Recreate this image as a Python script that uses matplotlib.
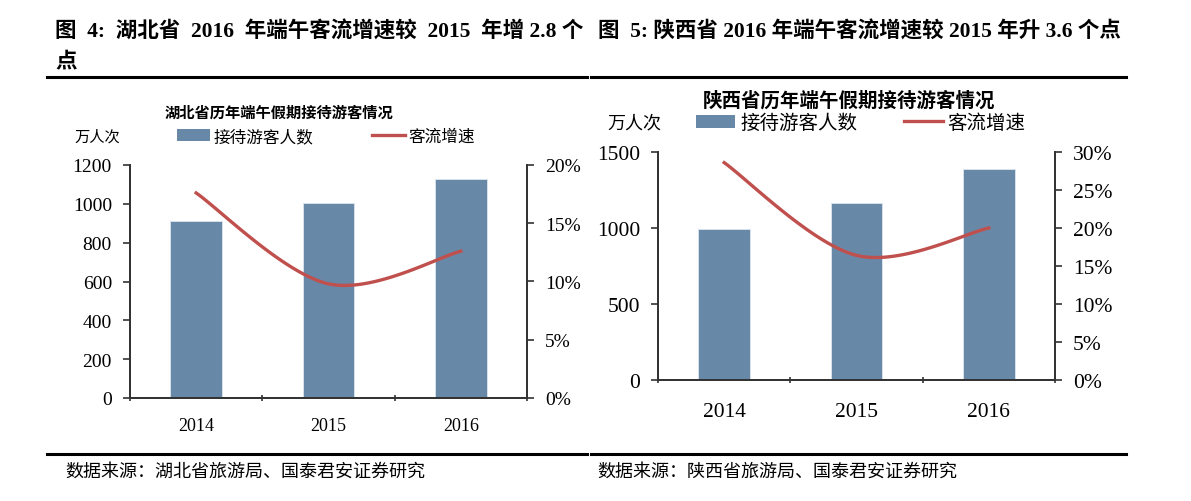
import numpy as np
import matplotlib
matplotlib.use("Agg")
import matplotlib.pyplot as plt
from matplotlib.lines import Line2D
from matplotlib.patches import Patch
from matplotlib.ticker import FuncFormatter

plt.rcParams['font.family'] = ['Liberation Serif', 'Noto Sans CJK SC', 'DejaVu Sans']

years = ['2014', '2015', '2016']
hubei_visitors = [911, 1004, 1128]
hubei_growth = [17.6, 9.8, 12.6]
shaanxi_visitors = [993, 1164, 1388]
shaanxi_growth = [28.6, 16.4, 20.0]

BAR = '#6888A8'
RED = '#C0504D'
AX = '#333333'
FAM = ['Liberation Serif', 'Noto Sans CJK SC']

W, H = 1191, 502
fig = plt.figure(figsize=(W / 100, H / 100), dpi=100)


def fx(px):
    return px / W


def fy(py):
    return 1 - py / H


def smooth(y):
    # Bezier smoothing similar to spreadsheet "smoothed line"
    x = np.arange(len(y), dtype=float)
    pts = np.column_stack([x, np.asarray(y, float)])
    P = np.vstack([pts[0], pts, pts[-1]])
    out = []
    t = np.linspace(0, 1, 60)[:, None]
    for i in range(1, len(P) - 2):
        p0, p1, p2, p3 = P[i - 1], P[i], P[i + 1], P[i + 2]
        c1 = p1 + (p2 - p0) / 6
        c2 = p2 - (p3 - p1) / 6
        seg = ((1 - t) ** 3) * p1 + 3 * ((1 - t) ** 2) * t * c1 + 3 * (1 - t) * t ** 2 * c2 + t ** 3 * p2
        out.append(seg if i == 1 else seg[1:])
    s = np.vstack(out)
    return s[:, 0], s[:, 1]


def make_chart(rect, vals, growth, ymax, ystep, gmax, tick_fs, xtick_fs, xpad):
    ax = fig.add_axes(rect)
    x = np.arange(len(years))
    ax.bar(x, vals, width=0.39, color=BAR, edgecolor='#DCE6F0', linewidth=0.6, zorder=2)
    ax.set_xlim(-0.5, len(years) - 0.5)
    ax.set_ylim(0, ymax)
    ax.set_yticks(np.arange(0, ymax + 1, ystep))
    ax.set_xticks(x)
    ax.set_xticklabels(years)
    ax.set_xticks(np.arange(-0.5, len(years), 1.0), minor=True)
    ax.tick_params(axis='x', which='major', length=0, pad=xpad, labelsize=xtick_fs, colors='black')
    ax.tick_params(axis='x', which='minor', length=5, width=1.2, color=AX, direction='inout')
    ax.tick_params(axis='y', length=5, width=1.2, color=AX, direction='out', labelsize=tick_fs, pad=8)
    ax.spines['top'].set_visible(False)
    for s in ['left', 'bottom', 'right']:
        ax.spines[s].set_color(AX)
        ax.spines[s].set_linewidth(1.3)
    ax2 = ax.twinx()
    gx, gy = smooth(growth)
    ax2.plot(gx, gy, color=RED, lw=2.4)
    ax2.set_ylim(0, gmax)
    ax2.set_yticks(np.arange(0, gmax + 0.1, 5))
    ax2.yaxis.set_major_formatter(FuncFormatter(lambda v, p: f'{v:.0f}%'))
    ax2.tick_params(axis='y', length=5, width=1.2, color=AX, direction='out', labelsize=tick_fs, pad=8)
    ax2.spines['top'].set_visible(False)
    for s in ['left', 'bottom', 'right']:
        ax2.spines[s].set_color(AX)
        ax2.spines[s].set_linewidth(1.3)
    for lab in ax.get_xticklabels() + ax.get_yticklabels() + ax2.get_yticklabels():
        lab.set_family(FAM)
    return ax, ax2


# Left chart (Hubei)
make_chart([fx(130), fy(399), fx(397), 233 / H], hubei_visitors, hubei_growth,
           1200, 200, 20, 14, 13, 14)
# Right chart (Shaanxi)
make_chart([fx(658), fy(381), fx(397), 228 / H], shaanxi_visitors, shaanxi_growth,
           1500, 500, 30, 15.5, 15.5, 16)

# Headers
fig.text(fx(55), fy(32), '图  4:  湖北省  2016  年端午客流增速较  2015  年增 2.8 个',
         fontsize=15.5, fontweight='bold', family=FAM, va='center', ha='left')
fig.text(fx(55), fy(62), '点', fontsize=15.5, fontweight='bold', family=FAM, va='center', ha='left')
fig.text(fx(598), fy(32), '图  5: 陕西省 2016 年端午客流增速较 2015 年升 3.6 个点',
         fontsize=15.5, fontweight='bold', family=FAM, va='center', ha='left')

# Rules
for x0, x1 in [(47, 587), (591, 1126)]:
    fig.add_artist(Line2D([fx(x0), fx(x1)], [fy(78), fy(78)], color='black', lw=2.2))
    fig.add_artist(Line2D([fx(x0), fx(x1)], [fy(455), fy(455)], color='black', lw=2.2))

# Chart titles
fig.text(fx(279), fy(113), '湖北省历年端午假期接待游客情况', fontsize=11, fontweight='bold',
         family=FAM, ha='center', va='center')
fig.text(fx(849), fy(101), '陕西省历年端午假期接待游客情况', fontsize=14, fontweight='bold',
         family=FAM, ha='center', va='center')

# Units
fig.text(fx(97), fy(137), '万人次', fontsize=11, family=FAM, ha='center', va='center')
fig.text(fx(634), fy(124), '万人次', fontsize=13, family=FAM, ha='center', va='center')

# Legends
handles = [Patch(facecolor=BAR, edgecolor='none'), Line2D([], [], color=RED, lw=2.4)]
labels = ['接待游客人数', '客流增速']
fig.legend(handles, labels, loc='center', bbox_to_anchor=(fx(326), fy(138)), ncol=2,
           frameon=False, handlelength=2.0, handleheight=0.7,
           handletextpad=0.2, columnspacing=3.5, prop={'family': FAM, 'size': 12})
fig.legend(handles, labels, loc='center', bbox_to_anchor=(fx(861), fy(124)), ncol=2,
           frameon=False, handlelength=2.0, handleheight=0.7,
           handletextpad=0.25, columnspacing=2.4, prop={'family': FAM, 'size': 14})

# Sources
fig.text(fx(65), fy(472), '数据来源：湖北省旅游局、国泰君安证券研究', fontsize=13, family=FAM,
         ha='left', va='center')
fig.text(fx(597), fy(472), '数据来源：陕西省旅游局、国泰君安证券研究', fontsize=13, family=FAM,
         ha='left', va='center')

fig.savefig('out.png', dpi=100)
